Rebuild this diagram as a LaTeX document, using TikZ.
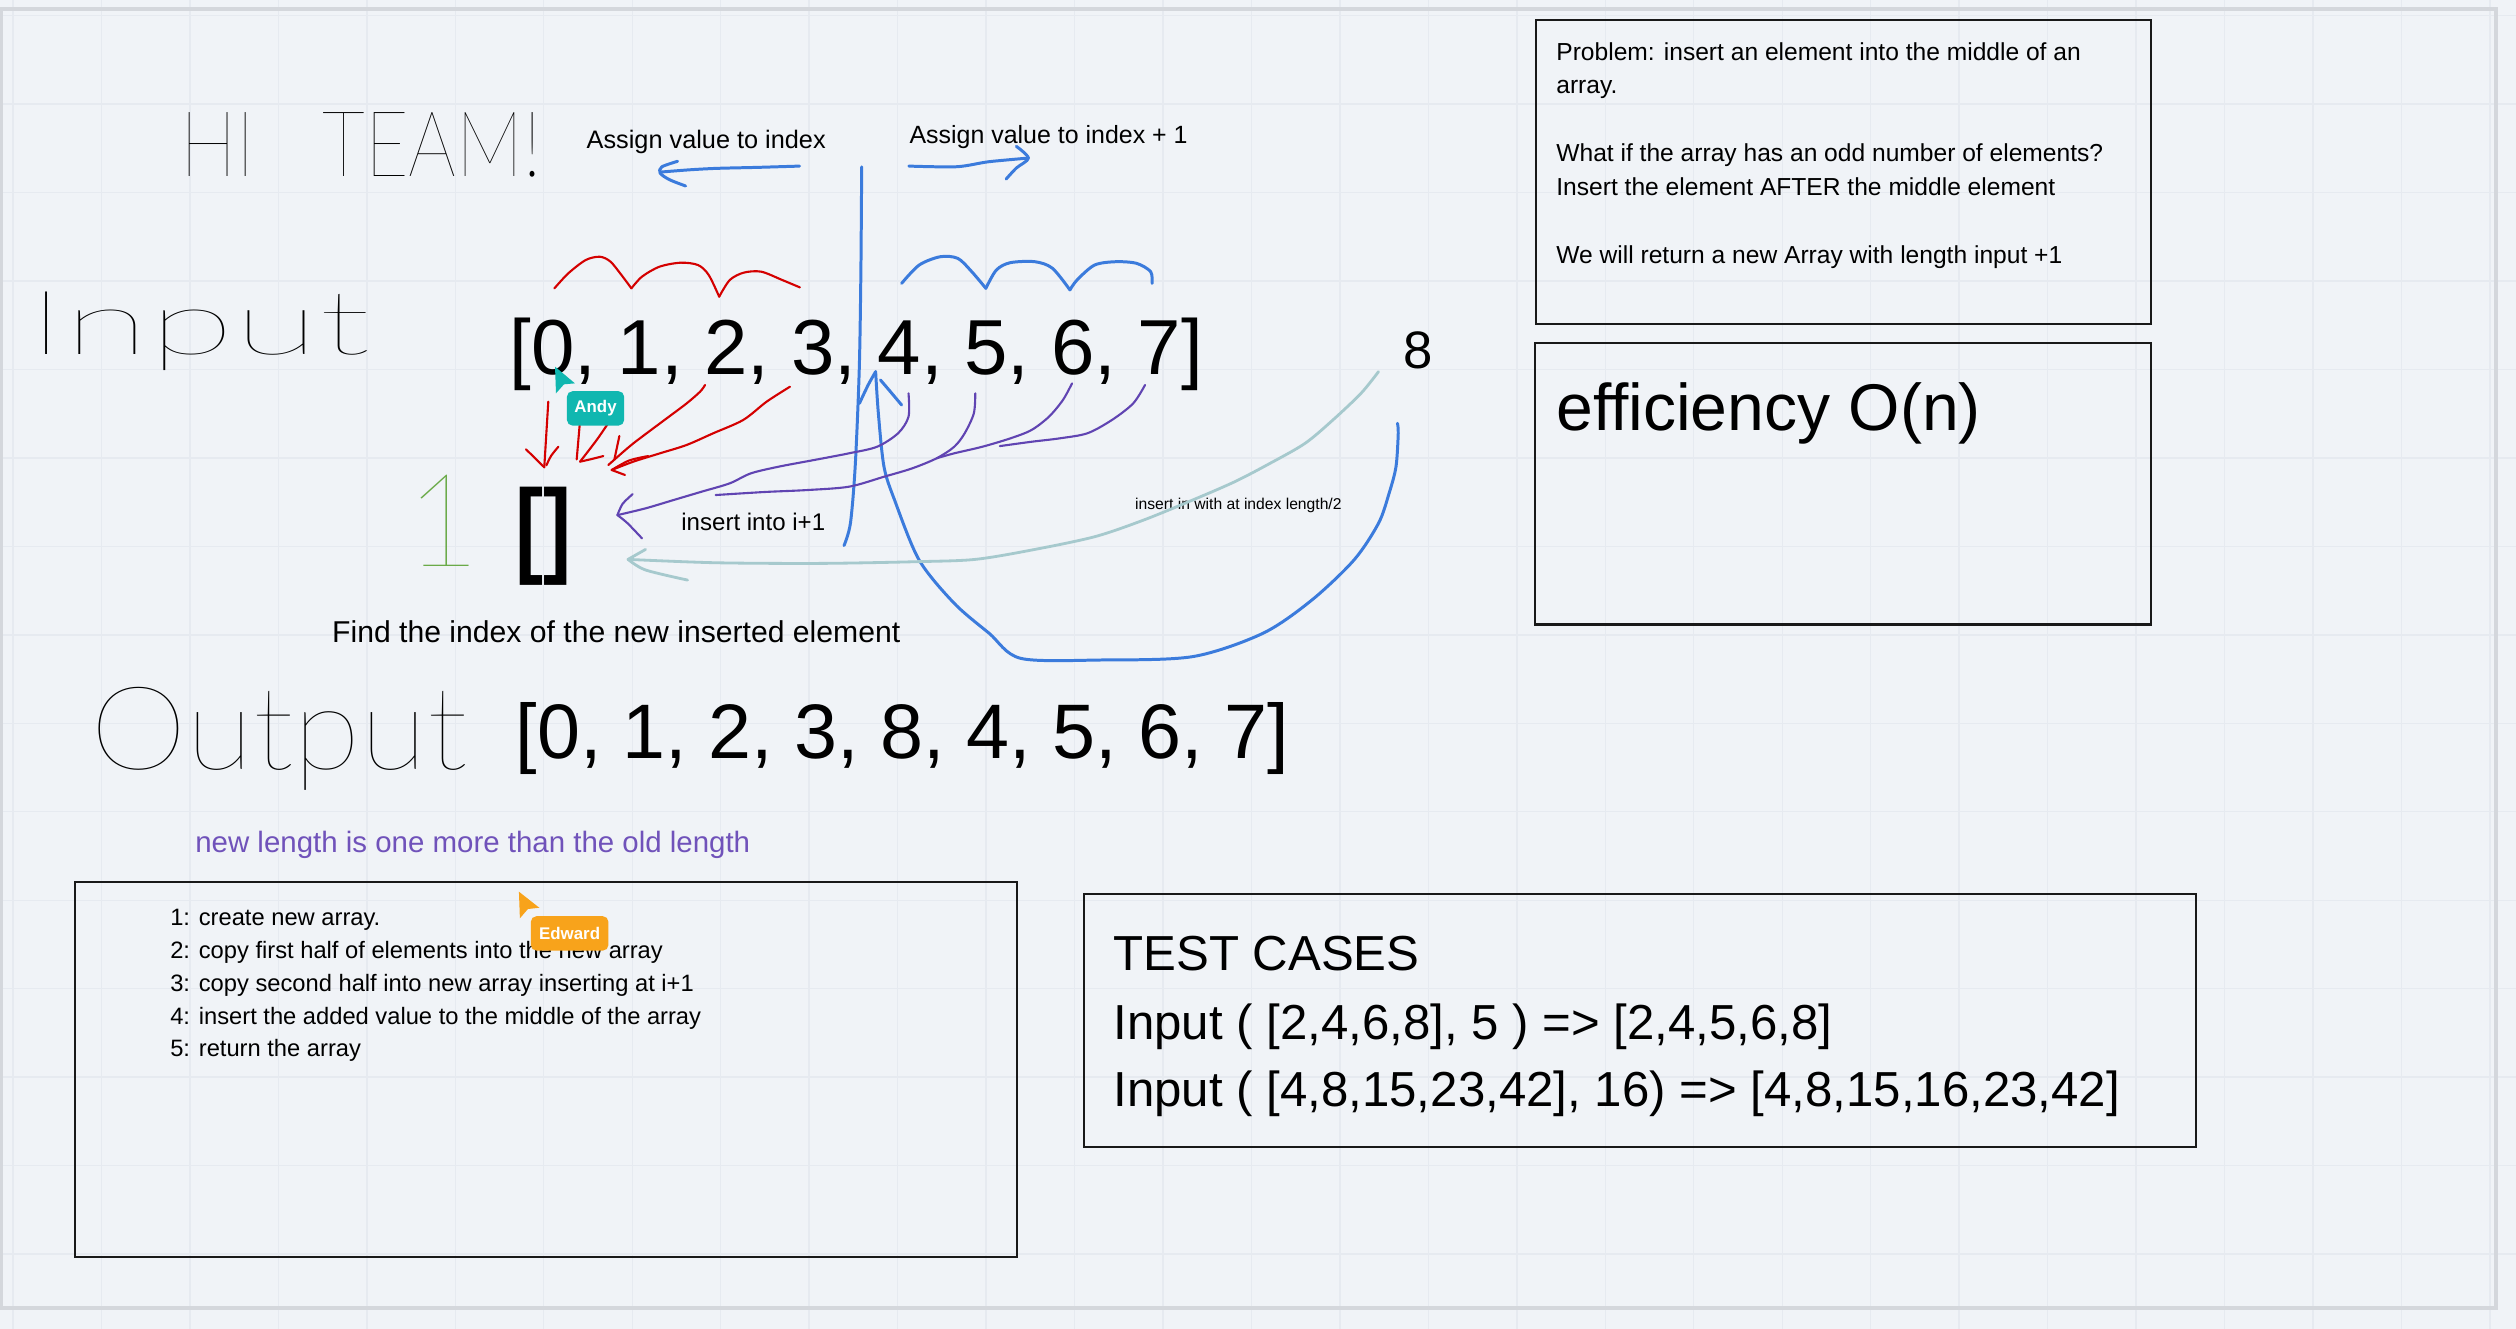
\documentclass[tikz,border=0pt]{standalone}
\usepackage{fontspec}
\usepackage{graphicx}
\setmainfont{Liberation Sans}
\IfFontExistsTF{Lato Thin}{\newfontfamily\handfont{Lato Thin}}{%
  \IfFontExistsTF{Lato Hairline}{\newfontfamily\handfont{Lato Hairline}}{\newfontfamily\handfont{Liberation Sans}}}
\usetikzlibrary{positioning, fit}
\definecolor{boardbg}{RGB}{240,243,247}
\definecolor{gridline}{RGB}{230,234,240}
\definecolor{edgegray}{RGB}{212,215,220}
\definecolor{penblue}{RGB}{59,123,220}
\definecolor{penred}{RGB}{212,0,0}
\definecolor{penpurple}{RGB}{96,68,178}
\definecolor{penpale}{RGB}{166,201,205}
\definecolor{pengreen}{RGB}{106,170,72}
\definecolor{notepurple}{RGB}{112,82,186}
\definecolor{andyteal}{RGB}{16,183,176}
\definecolor{edorange}{RGB}{248,163,27}

\begin{document}
\begin{tikzpicture}[x=0.016046cm, y=-0.016046cm,
    sheet/.style={draw=black!90, line width=0.6pt, inner sep=0pt},
    txt/.style={inner sep=0pt, anchor=base west},
    hand/.style={inner sep=0pt, anchor=base west, font=\handfont},
    blue pen/.style={draw=penblue, line width=0.85pt, line cap=round, line join=round},
    red pen/.style={draw=penred, line width=0.6pt, line cap=round, line join=round},
    purple pen/.style={draw=penpurple, line width=0.6pt, line cap=round, line join=round},
    pale pen/.style={draw=penpale, line width=0.8pt, line cap=round, line join=round},
    tag/.style={rounded corners=1.6pt, inner sep=0pt, minimum height=9.8pt, text=white,
        font=\bfseries\fontsize{4.8pt}{5pt}\selectfont}]

    \fill[boardbg] (0,0) rectangle (1568,828);
    \useasboundingbox (0,0) rectangle (1568,828);
    \foreach \gx in {0,...,28}
        \draw[gridline, line width=0.4pt] ({8.1+55.13*\gx},0) -- ++(0,828);
    \foreach \gy in {0,...,14}
        \draw[gridline, line width=0.4pt] (0,{9.7+55.13*\gy}) -- ++(1568,0);
    \draw[edgegray, line width=1.2pt] (0.6,5.6) rectangle (1555.5,815.2);

    \coordinate (pb1) at (957,12.7);    \coordinate (pb2) at (1340.4,201.7);
    \coordinate (eb1) at (956.4,213.7); \coordinate (eb2) at (1340.4,389.2);
    \coordinate (sb1) at (46.7,549.7);  \coordinate (sb2) at (633.7,783.4);
    \coordinate (tb1) at (675.8,557.3); \coordinate (tb2) at (1368.3,714.6);
    \node[sheet, fit=(pb1)(pb2)] (problem) {};
    \node[sheet, fit=(eb1)(eb2)] (effbox) {};
    \node[sheet, fit=(sb1)(sb2)] (steps) {};
    \node[sheet, fit=(tb1)(tb2)] (tests) {};

    \foreach \y/\t [count=\i] in {37.4/Problem: insert an element into the middle of an, 58.5/array.,
        100.7/What if the array has an odd number of elements?, 121.8/Insert the element AFTER the middle element,
        164/We will return a new Array with length input +1}
        \node[txt, font=\fontsize{7pt}{8pt}\selectfont] (prob\i) at (969.5,\y) {\t};
    \node[txt, font=\fontsize{18.8pt}{20pt}\selectfont] (eff) at (969.5,268.4) {efficiency O(n)};

    \foreach \t [count=\i] in {1: create new array., 2: copy first half of elements into the new array,
        3: copy second half into new array inserting at i+1, 4: insert the added value to the middle of the array,
        5: return the array}
        \node[txt, font=\fontsize{6.75pt}{8pt}\selectfont] (step\i) at (105.7,{556.6+20.4*\i}) {\t};

    \node[txt, font=\fontsize{14pt}{15pt}\selectfont] (tc0) at (693.5,605.1) {TEST CASES};
    \node[txt, font=\fontsize{14pt}{15pt}\selectfont] (tc1) at (693.5,648.1) {Input ( [2,4,6,8], 5 ) => [2,4,5,6,8]};
    \node[txt, font=\fontsize{14pt}{15pt}\selectfont] (tc2) at (693.5,689.7) {Input ( [4,8,15,23,42], 16) => [4,8,15,16,23,42]};

    \node[hand] (hiteam) at (112,110) {\resizebox{102.9pt}{18.2pt}{HI\hspace{0.9em}TEAM!}};
    \node[hand] (inword) at (17,221) {\resizebox{97.4pt}{17.8pt}{Input}};
    \node[hand] (outword) at (56,479.6) {\resizebox{107.4pt}{23.4pt}{Output}};
    \node[inner sep=0pt, anchor=base, text=pengreen, font=\handfont] (one) at (276,353) {\resizebox{!}{26pt}{1}};

    \node[txt, font=\fontsize{7.2pt}{8pt}\selectfont] (assignl) at (365.2,92.4) {Assign value to index};
    \node[txt, font=\fontsize{7.1pt}{8pt}\selectfont] (assignr) at (566.4,89.3) {Assign value to index + 1};
    \node[txt, font=\fontsize{22.2pt}{24pt}\selectfont] (arrin) at (317,233.1) {[0, 1, 2, 3, 4, 5, 6, 7]};
    \node[inner sep=0pt, anchor=base, font=\fontsize{15pt}{16pt}\selectfont] (eight) at (883.5,229.5) {8};
    \node[inner sep=0pt, xscale=0.8, font=\bfseries\fontsize{30pt}{31pt}\selectfont] (empty) at (339,334) {[]};
    \node[txt, font=\fontsize{6.85pt}{8pt}\selectfont] (insone) at (424.2,330.3) {insert into i+1};
    \node[txt, font=\fontsize{4.46pt}{5pt}\selectfont] (inshalf) at (707,317.8) {insert in with at index length/2};
    \node[txt, font=\fontsize{8.58pt}{10pt}\selectfont] (findidx) at (206.6,400.4) {Find the index of the new inserted element};
    \node[txt, font=\fontsize{22pt}{24pt}\selectfont] (arrout) at (320.9,472.7) {[0, 1, 2, 3, 8, 4, 5, 6, 7]};
    \node[txt, text=notepurple, font=\fontsize{8.38pt}{10pt}\selectfont] (newlen) at (121.3,531.1) {new length is one more than the old length};

    \coordinate (lefttip) at (412,107.2);
    \coordinate (righttip) at (640.9,98.5);
    \coordinate (looptip) at (545.7,231.6);
    \coordinate (purpletip) at (384.8,321);
    \coordinate (paletip) at (391.4,348.6);
    \coordinate (redtip) at (381.2,292.9);
    \coordinate (droptip) at (339.2,291.2);

    \draw[blue pen] plot[smooth] coordinates {(498.3,103.5) (472,104.3) (447.1,104.9) (430,105.8) (lefttip)};
    \draw[blue pen] plot[smooth] coordinates {(422.3,100.5) (412.4,104) (411.4,107.9) (417.3,112) (427.3,115.9)};
    \draw[blue pen] plot[smooth] coordinates {(566.4,103.5) (596.2,103.9) (616.1,100.8) (righttip)};
    \draw[blue pen] plot[smooth] coordinates {(633.4,91.2) (righttip) (633.4,104.7) (627,111.6)};
    \draw[blue pen] plot[smooth] coordinates {(537,104) (536.5,170) (535.5,230) (533,290) (530,326) (526,340)};

    \draw[red pen] plot[smooth] coordinates {(345.5,179.7) (354.2,170.3) (365.1,162) (373.9,160) (380.4,163) (387,171) (393.5,179.7)};
    \draw[red pen] plot[smooth] coordinates {(393.5,179.7) (400.1,172.4) (411,166.2) (424.2,163.7) (435.1,165.2) (441.7,171.4) (448.2,184.9)};
    \draw[red pen] plot[smooth] coordinates {(448.2,184.9) (454.8,174.5) (463.5,169.9) (474.4,169.3) (487.5,174.5) (498.5,179.1)};
    \draw[blue pen] plot[smooth] coordinates {(561.9,176.6) (572.8,165.2) (585.9,160) (596.9,161) (605.6,169.3) (614.4,179.7)};
    \draw[blue pen] plot[smooth] coordinates {(614.4,179.7) (620.9,168.3) (629.6,163.7) (645,163.1) (655.9,167.2) (666.8,180.7)};
    \draw[blue pen] plot[smooth] coordinates {(666.8,180.7) (671.2,174.5) (682.1,165.2) (695.2,163.1) (708.3,164.1) (717.1,169.3) (718,176.6)};

    \draw[blue pen] plot[smooth] coordinates {(looptip) (547.4,257.6) (550.9,290.8) (557.5,311.6) (572.8,349) (594.7,376) (616.5,394.7)
        (636.2,410.3) (686.4,411.3) (743.3,409.2) (787,394.7) (817.6,373.9) (843.8,349) (859.1,326.1) (865.7,307.4)
        (870,290.8) (871.4,270) (870.9,263.8)};
    \draw[blue pen] plot[smooth] coordinates {(looptip) (541,240) (535.6,251.4)};
    \draw[blue pen] plot[smooth] coordinates {(548.7,236.8) (554,243) (561.9,252.4)};

    \draw[purple pen] plot[smooth] coordinates {(566.2,245.1) (566.2,259.7) (559.7,270) (546.6,278.4) (529.1,282.5) (507.2,286.7)
        (485.4,290.8) (467.9,295) (454.8,301.2) (437.3,306.4) (419.8,311.6) (402.3,316.8) (purpletip)};
    \draw[purple pen] plot[smooth] coordinates {(607.8,245.1) (606.9,257.6) (601.2,270) (594.7,278.4) (583.7,285.6) (568.4,291.9)
        (550.9,297.1) (529.1,303.3) (502.9,305.4) (476.6,306.6) (446,308.5)};
    \draw[purple pen] plot[smooth] coordinates {(668.1,238.9) (662.4,249.3) (653.7,259.7) (642.8,268) (629.6,273.2) (612.2,278.4)
        (594.7,282.5) (583.7,285.6)};
    \draw[purple pen] plot[smooth] coordinates {(713.6,239.9) (706.2,251.4) (693,261.7) (677.7,270) (660.2,273.2) (642.8,275.3) (623.1,278)};
    \draw[purple pen] plot[smooth] coordinates {(purpletip) (388,314) (394.3,307.9)};
    \draw[purple pen] plot[smooth] coordinates {(purpletip) (391,326) (400.1,335.5)};

    \draw[pale pen] plot[smooth] coordinates {(859.1,231.6) (848.2,245.1) (830.7,261.7) (813.3,276.3) (791.4,288.8) (769.5,300.2)
        (743.3,311.6) (712.7,324.1) (682.1,334.5) (642.8,342.8) (607.8,348.6) (572.8,350) (511.6,351.1) (446,350.7) (paletip)};
    \draw[pale pen] (paletip) -- (402.3,342.4);
    \draw[pale pen] plot[smooth] coordinates {(paletip) (402.3,355.2) (428.5,361.5)};

    \draw[red pen] (341.7,250.3) -- (droptip);
    \draw[red pen] (327.8,280) -- (droptip);
    \draw[red pen] plot[smooth] coordinates {(348,278.4) (343.5,284) (340.5,290)};
    \draw[red pen] (361.5,262) -- (359.4,286.3);
    \draw[red pen] plot[smooth] coordinates {(380.2,262) (372,274) (361.5,287.7)};
    \draw[red pen] plot[smooth] coordinates {(361.5,287.7) (369,286) (376,284.2)};
    \draw[red pen] (386,271.7) -- (382.9,286.3);
    \draw[red pen] plot[smooth] coordinates {(439.4,239.9) (436.3,244.1) (427.9,251.4) (415.5,260.7) (403,270) (394.7,276.3)
        (388.5,281.5) (379.1,289.8)};
    \draw[red pen] plot[smooth] coordinates {(492.3,241) (477.8,250.3) (463.2,261.7) (444.5,270) (427.9,277.3) (411.3,282.5)
        (394.7,287.7) (redtip)};
    \draw[red pen] plot[smooth] coordinates {(redtip) (392,287) (404,284.2)};
    \draw[red pen] (redtip) -- (389.5,296);

    \fill[andyteal] (345.9,228.5) -- (358.3,238.9) -- (351.5,239.5) -- (346.5,245.1) -- cycle;
    \node[tag, fill=andyteal, minimum width=16.3pt] (andy) at (371.15,254.5) {Andy};
    \fill[edorange] (323.4,555.7) -- (336.1,565.7) -- (329,566.5) -- (324,572.3) -- cycle;
    \node[tag, fill=edorange, minimum width=22.1pt] (edward) at (355,581.7) {Edward};
\end{tikzpicture}
\end{document}
